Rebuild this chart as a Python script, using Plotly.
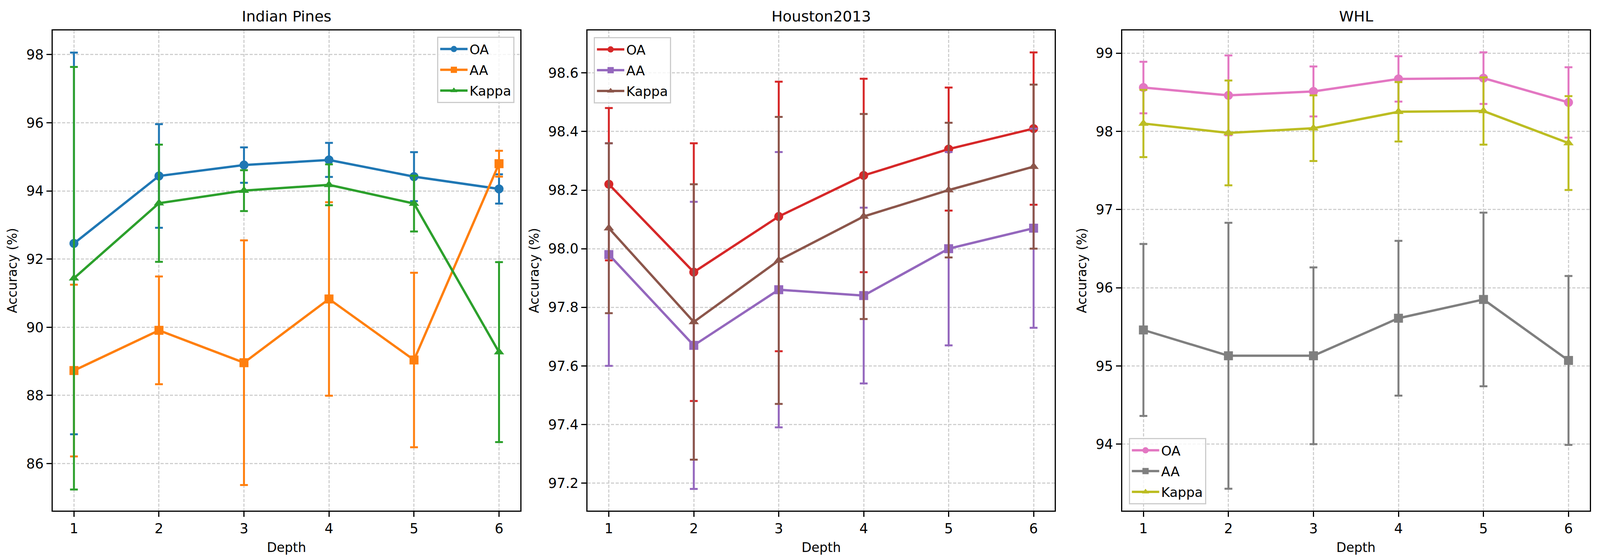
import plotly.graph_objects as go

depth = [1, 2, 3, 4, 5, 6]
metric_names = ["OA", "AA", "Kappa"]

# Indian Pines
ip_oa = [92.46, 94.44, 94.76, 94.91, 94.42, 94.06]
ip_oa_err = [5.60, 1.52, 0.52, 0.50, 0.72, 0.43]
ip_aa = [88.73, 89.91, 88.96, 90.83, 89.04, 94.80]
ip_aa_err = [2.52, 1.58, 3.59, 2.84, 2.56, 0.38]
ip_kappa = [91.44, 93.64, 94.01, 94.18, 93.63, 89.27]
ip_kappa_err = [6.20, 1.72, 0.60, 0.60, 0.82, 2.64]

# Houston2013
ho_oa = [98.22, 97.92, 98.11, 98.25, 98.34, 98.41]
ho_oa_err = [0.26, 0.44, 0.46, 0.33, 0.21, 0.26]
ho_aa = [97.98, 97.67, 97.86, 97.84, 98.00, 98.07]
ho_aa_err = [0.38, 0.49, 0.47, 0.30, 0.33, 0.34]
ho_kappa = [98.07, 97.75, 97.96, 98.11, 98.20, 98.28]
ho_kappa_err = [0.29, 0.47, 0.49, 0.35, 0.23, 0.28]

# WHL
wh_oa = [98.56, 98.46, 98.51, 98.67, 98.68, 98.37]
wh_oa_err = [0.33, 0.51, 0.32, 0.29, 0.33, 0.45]
wh_aa = [95.46, 95.13, 95.13, 95.61, 95.85, 95.07]
wh_aa_err = [1.10, 1.70, 1.13, 0.99, 1.11, 1.08]
wh_kappa = [98.10, 97.98, 98.04, 98.25, 98.26, 97.85]
wh_kappa_err = [0.43, 0.67, 0.42, 0.38, 0.43, 0.60]

titles = ["Indian Pines", "Houston2013", "WHL"]
y_ticks = [
    [86, 88, 90, 92, 94, 96, 98],
    [97.2, 97.4, 97.6, 97.8, 98.0, 98.2, 98.4, 98.6],
    [94, 95, 96, 97, 98, 99],
]
y_ranges = [[84.62, 98.71], [97.106, 98.745], [93.15, 99.29]]

panels = [
    ([ip_oa, ip_aa, ip_kappa], [ip_oa_err, ip_aa_err, ip_kappa_err],
     ["#1f77b4", "#ff7f0e", "#2ca02c"]),
    ([ho_oa, ho_aa, ho_kappa], [ho_oa_err, ho_aa_err, ho_kappa_err],
     ["#d62728", "#9467bd", "#8c564b"]),
    ([wh_oa, wh_aa, wh_kappa], [wh_oa_err, wh_aa_err, wh_kappa_err],
     ["#e377c2", "#7f7f7f", "#bcbd22"]),
]
symbols = ["circle", "square", "triangle-up"]

W, H = 4373, 1432
x_domains = [[144 / W, 1422 / W], [1606 / W, 2883 / W], [3067 / W, 4345 / W]]
y_domain = [1 - 1308 / H, 1 - 78 / H]

FONT = "DejaVu Sans"
fig = go.Figure()

for p, (vals, errs, colors) in enumerate(panels):
    sfx = "" if p == 0 else str(p + 1)
    leg = "legend" if p == 0 else "legend" + str(p + 1)
    for k in range(3):
        fig.add_trace(go.Scatter(
            x=depth, y=vals[k], name=metric_names[k],
            mode="lines+markers",
            line=dict(color=colors[k], width=6),
            marker=dict(symbol=symbols[k], size=23, color=colors[k]),
            error_y=dict(type="data", array=errs[k], visible=True,
                         color=colors[k], thickness=5, width=10),
            xaxis="x" + sfx, yaxis="y" + sfx, legend=leg,
            legendgroup="g%d_%d" % (p, k),
        ))

layout = dict(
    width=W, height=H,
    margin=dict(l=0, r=0, t=0, b=0),
    paper_bgcolor="white", plot_bgcolor="white",
    font=dict(family=FONT, size=35, color="black"),
)

grid_common = dict(
    showgrid=True, gridcolor="#d0d0d0", gridwidth=3,
    griddash="8px,4px",
    showline=True, linecolor="black", linewidth=3.3, mirror=True,
    ticks="outside", ticklen=13, tickwidth=3.3, tickcolor="black",
    zeroline=False,
    tickfont=dict(family=FONT, size=35, color="black"),
)

annotations = []
for p in range(3):
    sfx = "" if p == 0 else str(p + 1)
    layout["xaxis" + sfx] = dict(
        domain=x_domains[p], anchor="y" + sfx, range=[0.75, 6.25],
        tickvals=depth, ticktext=[str(d) for d in depth],
        title=dict(text="Depth", font=dict(family=FONT, size=33), standoff=18),
        **grid_common,
    )
    layout["yaxis" + sfx] = dict(
        domain=y_domain, anchor="x" + sfx, range=y_ranges[p],
        tickvals=y_ticks[p],
        tickformat=".1f" if p == 1 else "d",
        title=dict(text="Accuracy (%)", font=dict(family=FONT, size=33), standoff=14),
        **grid_common,
    )
    annotations.append(dict(
        text=titles[p], xref="paper", yref="paper",
        x=(x_domains[p][0] + x_domains[p][1]) / 2, y=y_domain[1] + 12 / H,
        xanchor="center", yanchor="bottom", showarrow=False,
        font=dict(family=FONT, size=38, color="black"),
    ))
layout["annotations"] = annotations

leg_common = dict(
    bgcolor="rgba(255,255,255,0.8)", bordercolor="#cccccc", borderwidth=3,
    font=dict(family=FONT, size=34, color="black"),
    itemsizing="trace", itemwidth=70, tracegroupgap=6,
)
layout["legend"] = dict(x=1406 / W, y=1 - 94 / H, xanchor="right", yanchor="top", **leg_common)
layout["legend2"] = dict(x=1623 / W, y=1 - 95 / H, xanchor="left", yanchor="top", **leg_common)
layout["legend3"] = dict(x=3085 / W, y=1 - 1292 / H, xanchor="left", yanchor="bottom", **leg_common)

fig.update_layout(**layout)

# Fit the figure to the actual browser viewport (no body margin, no scrollbars).
fit_js = """
(function(){
  var gd = document.getElementById('{plot_id}');
  document.documentElement.style.margin = '0';
  document.documentElement.style.overflow = 'hidden';
  document.body.style.margin = '0';
  document.body.style.overflow = 'hidden';
  var w = Math.min(window.innerWidth, document.documentElement.clientWidth || window.innerWidth);
  var h = Math.min(window.innerHeight, document.documentElement.clientHeight || window.innerHeight);
  gd.style.width = w + 'px';
  gd.style.height = h + 'px';
  Plotly.relayout(gd, {width: w, height: h});
})();
"""
fig.write_html("out.html", post_script=fit_js, config={"displayModeBar": False})
